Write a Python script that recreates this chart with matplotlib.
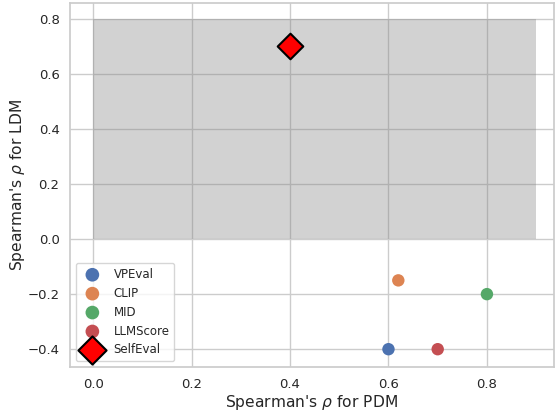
import matplotlib
matplotlib.use("Agg")
import matplotlib.pyplot as plt
import seaborn as sns
from matplotlib.patches import Rectangle

sns.set_theme(style="whitegrid")

# data
methods = ["VPEval", "CLIP", "MID", "LLMScore"]
pdm = [0.6, 0.62, 0.8, 0.7]
ldm = [-0.4, -0.15, -0.2, -0.4]
self_pdm = 0.4
self_ldm = 0.7

colors = sns.color_palette("deep", 4)

fig = plt.figure(figsize=(5.55, 4.12), dpi=100)
ax = fig.add_axes([0.126, 0.109, 0.872, 0.884])

# shaded region
ax.add_patch(Rectangle((0, 0), 0.9, 0.8, color="gray", alpha=0.35, lw=0, zorder=1))

for name, x, y, c in zip(methods, pdm, ldm, colors):
    ax.scatter(x, y, s=80, color=c, label=name, zorder=3, edgecolor="none")

ax.scatter(self_pdm, self_ldm, s=170, marker="D", color="red", edgecolor="black",
           linewidth=1.5, label="SelfEval", zorder=4)

ax.set_xlim(-0.047, 0.936)
ax.set_ylim(-0.465, 0.858)
ax.set_xticks([0.0, 0.2, 0.4, 0.6, 0.8])
ax.set_yticks([-0.4, -0.2, 0.0, 0.2, 0.4, 0.6, 0.8])
ax.tick_params(labelsize=9.5, pad=1.5)
ax.set_xlabel(r"Spearman's $\rho$ for PDM", fontsize=11.2, labelpad=2)
ax.set_ylabel(r"Spearman's $\rho$ for LDM", fontsize=11.2, labelpad=0)
ax.legend(loc="lower left", fontsize=8.5, markerscale=1.1)

fig.savefig("out.png", dpi=100)
